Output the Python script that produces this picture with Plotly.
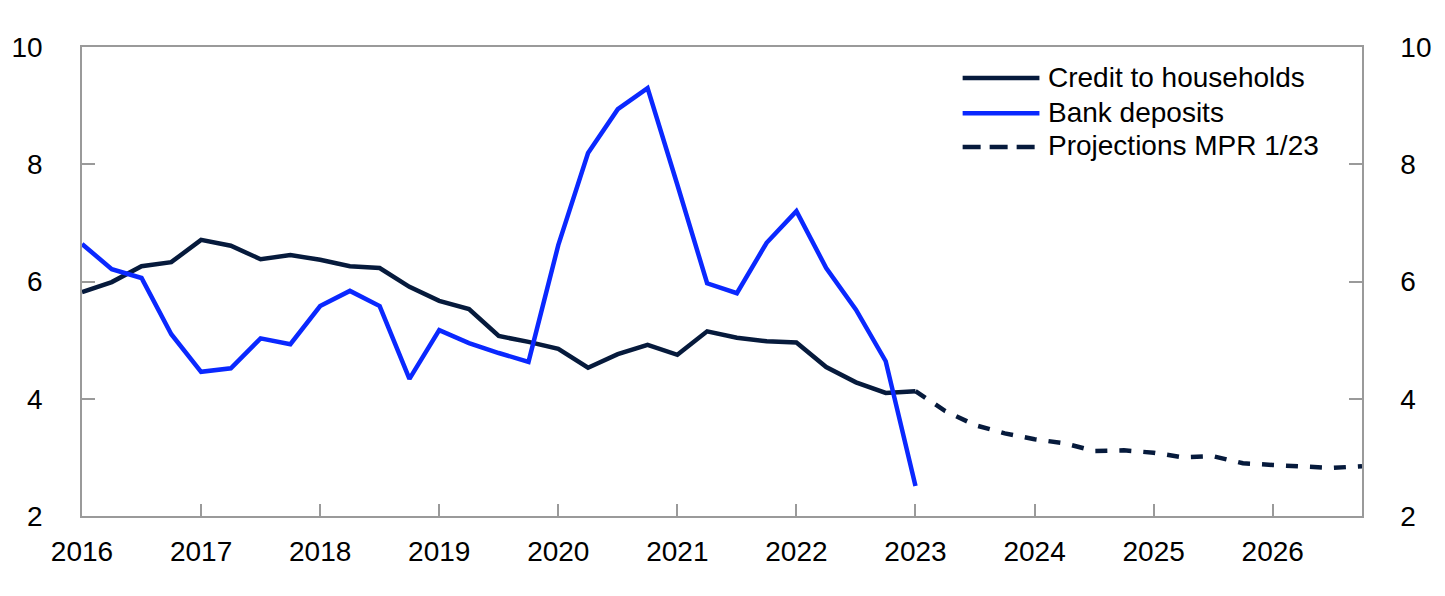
import plotly.graph_objects as go

# Quarterly dates (decimal years)
credit_x = [2016 + 0.25 * i for i in range(29)]  # 2016Q1 .. 2023Q1
credit_to_households = [5.82, 5.99, 6.26, 6.33, 6.71, 6.61, 6.38, 6.45,
                        6.37, 6.26, 6.23, 5.91, 5.67, 5.53, 5.07, 4.97,
                        4.85, 4.53, 4.76, 4.92, 4.75, 5.15, 5.04, 4.98,
                        4.96, 4.54, 4.28, 4.10, 4.13]
bank_deposits = [6.64, 6.21, 6.06, 5.10, 4.46, 4.52, 5.03, 4.93,
                 5.58, 5.84, 5.58, 4.34, 5.17, 4.95, 4.78, 4.63,
                 6.62, 8.19, 8.94, 9.30, 7.65, 5.97, 5.80, 6.66,
                 7.20, 6.23, 5.52, 4.64, 2.51]
proj_x = [2023 + 0.25 * i for i in range(16)]  # 2023Q1 .. 2026Q4
projections = [4.13, 3.79, 3.55, 3.41, 3.31, 3.24, 3.11, 3.12,
               3.08, 3.00, 3.02, 2.90, 2.87, 2.85, 2.82, 2.85]

year_ticks = list(range(2016, 2027))
y_ticks = [2, 4, 6, 8, 10]
legend_labels = ["Credit to households", "Bank deposits", "Projections MPR 1/23"]

NAVY = "#061a3c"
BLUE = "#0a28ff"
GRID = "#9a9a9a"
FONT = "Liberation Sans, Arial, sans-serif"
FS = 28
LW = 4.5

fig = go.Figure()
fig.add_trace(go.Scatter(x=credit_x, y=credit_to_households, mode="lines",
                         line=dict(color=NAVY, width=LW), name=legend_labels[0]))
fig.add_trace(go.Scatter(x=credit_x, y=bank_deposits, mode="lines",
                         line=dict(color=BLUE, width=LW), name=legend_labels[1]))
fig.add_trace(go.Scatter(x=proj_x, y=projections, mode="lines",
                         line=dict(color=NAVY, width=LW, dash="12px,12px"),
                         name=legend_labels[2]))
# invisible trace for right axis
fig.add_trace(go.Scatter(x=[2016], y=[2], yaxis="y2", mode="markers",
                         marker=dict(opacity=0), showlegend=False, hoverinfo="skip"))

# custom legend
legend_line_y = [0.934, 0.859, 0.787]
legend_text_y = [0.936, 0.861, 0.789]
styles = [dict(color=NAVY, width=LW), dict(color=BLUE, width=LW),
          dict(color=NAVY, width=LW, dash="18px,9px")]
for lbl, ly, ty, st in zip(legend_labels, legend_line_y, legend_text_y, styles):
    fig.add_shape(type="line", xref="paper", yref="paper", x0=0.688, x1=0.748,
                  y0=ly, y1=ly, line=st)
    fig.add_annotation(xref="paper", yref="paper", x=0.753, y=ty, text=lbl,
                       showarrow=False, xanchor="left", yanchor="middle",
                       font=dict(size=FS, color="#000000", family=FONT))

axis_common = dict(showgrid=False, zeroline=False, showline=True, linecolor=GRID,
                   linewidth=1.5, ticks="inside", tickcolor=GRID, tickwidth=1.5,
                   automargin=False,
                   tickfont=dict(size=FS, color="#000000", family=FONT))

fig.update_layout(
    width=1445, height=596,
    margin=dict(l=74, r=91, t=39, b=88),
    paper_bgcolor="white", plot_bgcolor="white",
    showlegend=False,
    font=dict(family=FONT, size=FS, color="#000000"),
    xaxis=dict(range=[2016, 2026.75], tickvals=year_ticks,
               ticktext=[str(y) for y in year_ticks], ticklen=12, mirror=True,
               ticklabelstandoff=10, **axis_common),
    yaxis=dict(range=[2, 10], tickvals=y_ticks, ticklen=13, ticklabelstandoff=32,
               **axis_common),
    yaxis2=dict(range=[2, 10], tickvals=y_ticks, ticklen=13, overlaying="y",
                side="right", ticklabelstandoff=31, **axis_common),
)

fig.write_html("out.html")
